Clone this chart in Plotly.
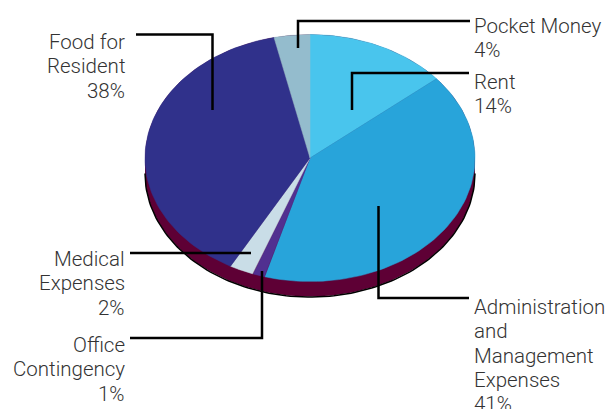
import numpy as np
import plotly.graph_objects as go

categories = ["Rent", "Administration and Management Expenses", "Office Contingency",
              "Medical Expenses", "Food for Resident", "Pocket Money"]
shares = [13.9, 40.5, 1.2, 2.4, 38.5, 3.5]
colors = ["#49c5ed", "#28a4da", "#513090", "#c9dde7", "#30318b", "#94bccd"]

# (text lines, anchor, x, first line y)
label_lines = [
    (["Pocket Money", "4%"], "left", 472, 26),
    (["Rent", "14%"], "left", 472, 82),
    (["Administration", "and", "Management", "Expenses", "41%"], "left", 472, 307),
    (["Food for", "Resident", "38%"], "right", 127, 42),
    (["Medical", "Expenses", "2%"], "right", 127, 259),
    (["Office", "Contingency", "1%"], "right", 127, 345),
]
leaders = [
    ([470, 298, 298], [21, 21, 48]),
    ([469, 352, 352], [73, 73, 110]),
    ([378.5, 378.5, 469], [206, 298, 298]),
    ([136, 212.5, 212.5], [34.5, 34.5, 110]),
    ([130, 251], [253, 253]),
    ([130, 262, 262], [338, 338, 271]),
]

CX, CY, RX, RY, DEPTH = 310, 158, 165, 123.5, 15
LINE_H = 24.3


def ellipse(a, dy=0):
    return CX + RX * np.sin(a), CY + dy - RY * np.cos(a)


fig = go.Figure()

# rim of the disc
a_low = np.linspace(np.pi / 2, 3 * np.pi / 2, 120)
a_top = np.linspace(3 * np.pi / 2, 5 * np.pi / 2, 120)
x1, y1 = ellipse(a_low, DEPTH)
x2, y2 = ellipse(a_top)
fig.add_trace(go.Scatter(x=np.r_[x1, x2], y=np.r_[y1, y2], mode="lines", fill="toself",
                         fillcolor="#5e0035", line=dict(width=0), hoverinfo="skip"))
fig.add_trace(go.Scatter(x=x1, y=y1 + 0.5, mode="lines", line=dict(color="black", width=1.5),
                         hoverinfo="skip"))

# slices
edges = np.cumsum([0] + shares) / sum(shares) * 2 * np.pi
for name, col, a0, a1 in zip(categories, colors, edges[:-1], edges[1:]):
    x, y = ellipse(np.linspace(a0, a1, 80))
    fig.add_trace(go.Scatter(x=np.r_[CX, x, CX], y=np.r_[CY, y, CY], mode="lines", fill="toself",
                             fillcolor=col, line=dict(color=col, width=0.5), name=name))

for lx, ly in leaders:
    fig.add_trace(go.Scatter(x=lx, y=ly, mode="lines", hoverinfo="skip",
                             line=dict(color="black", width=2.5)))

for lines, anchor, x, y in label_lines:
    for i, line in enumerate(lines):
        fig.add_annotation(x=x, y=y + i * LINE_H, text=line, showarrow=False,
                           xanchor=anchor, yanchor="middle",
                           font=dict(family="Roboto", size=20.5, weight=300, color="#333333"))

fig.update_layout(width=610, height=409, margin=dict(l=0, r=0, t=0, b=0), showlegend=False,
                  paper_bgcolor="white", plot_bgcolor="white",
                  xaxis=dict(range=[0, 610], visible=False),
                  yaxis=dict(range=[409, 0], visible=False))

fig.write_html("out.html", config={"displayModeBar": False},
               post_script="document.body.style.margin='0';document.body.style.overflow='hidden';")
